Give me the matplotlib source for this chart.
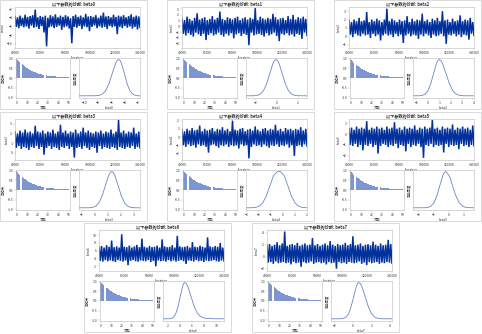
import numpy as np
import matplotlib
matplotlib.use('Agg')
import matplotlib.pyplot as plt
from matplotlib.patches import Rectangle

plt.rcParams['font.family'] = ['Noto Sans CJK SC', 'DejaVu Sans']
plt.rcParams['path.simplify'] = False

W, H = 482, 334
PW, PH = 147, 109

params = ['beta0', 'beta1', 'beta2', 'beta3', 'beta4', 'beta5', 'beta6', 'beta7']
title_prefix = '以下参数的诊断: '
iter_first, iter_last = 40001, 140000
iter_ticks = [40000, 60000, 80000, 100000, 120000, 140000]
lag_ticks = [0, 10, 20, 30, 40, 50]
acf_yticks = [-1.0, -0.5, 0.0, 0.5, 1.0]

# trace samples (thinned)
trace_beta0 = [-3.7, -6.1, -3.9, -6.4, -3.5, -5.9, -4.0, -6.2, -3.3, -6.0,
               -3.8, -6.5, -3.6, -5.8, -3.4, -6.3, -2.1, -6.1, -3.9, -6.6,
               -3.6, -5.9, -3.8, -7.4, -3.5, -10.6, -4.0, -6.2, -3.4, -6.0,
               -3.7, -6.4, -3.2, -6.1, -3.9, -5.8, -3.5, -6.8, -3.8, -6.2,
               -3.4, -6.0, -3.7, -6.5, -4.1, -9.9, -3.6, -6.1, -3.3, -6.3,
               -3.8, -5.9, -3.5, -6.6, -3.9, -6.0, -3.1, -6.2, -3.7, -7.1,
               -3.6, -6.1, -3.8, -5.8, -3.4, -6.4, -4.0, -6.0, -3.5, -6.3,
               -2.8, -6.1, -3.7, -6.6, -3.6, -5.9, -3.9, -6.2, -3.3, -6.0,
               -3.8, -7.8, -3.5, -6.1, -3.7, -6.4, -3.4, -5.9, -3.9, -6.3,
               -3.6, -6.0, -3.2, -6.5, -3.8, -6.1, -3.5, -6.7, -3.7, -6.2]
trace_beta1 = [1.4, -1.3, 1.1, -1.6, 1.7, -1.2, 1.3, -1.5, 1.0, -1.8,
               1.5, -1.1, 2.3, -1.4, 1.2, -1.7, 1.4, -1.3, 1.6, -2.4,
               1.1, -1.5, 1.3, -1.2, 1.8, -1.6, 1.2, -1.4, 1.5, -1.1,
               2.6, -1.5, 1.3, -1.8, 1.1, -1.3, 1.6, -1.6, 1.4, -1.2,
               1.2, -2.1, 1.5, -1.4, 1.7, -1.2, 1.1, -1.7, 1.4, -1.3,
               1.6, -1.5, 1.2, -3.3, 1.5, -1.1, 1.3, -1.6, 3.2, -1.4,
               1.1, -1.3, 1.7, -1.5, 1.4, -1.8, 1.2, -1.2, 1.5, -1.6,
               1.3, -1.4, 2.2, -1.1, 1.6, -1.7, 1.2, -2.6, 1.4, -1.3,
               1.5, -1.5, 1.1, -1.2, 1.8, -1.6, 1.3, -1.4, 2.0, -1.8,
               1.2, -1.3, 1.6, -1.5, 1.4, -2.2, 1.7, -1.1, 1.3, -1.6]
trace_beta2 = [1.9, 0.2, 1.7, -0.1, 2.0, 0.3, 1.8, 0.1, 2.2, 0.0,
               1.8, 0.3, 1.9, 0.1, 2.9, 0.2, 1.7, -0.2, 2.0, 0.3,
               1.8, 0.0, 2.1, 0.2, 1.9, -0.5, 1.7, 0.1, 2.0, 0.3,
               3.3, 0.1, 1.8, 0.2, 2.1, -0.1, 1.9, 0.3, 1.7, 0.0,
               2.0, 0.2, 1.8, -0.8, 1.9, 0.1, 2.4, 0.3, 1.7, 0.0,
               2.1, 0.2, 1.8, 0.1, 2.0, -0.3, 1.9, 0.2, 2.7, 0.0,
               1.8, 0.3, 2.0, 0.1, 1.7, -0.2, 2.1, 0.2, 1.9, 0.0,
               2.2, 0.1, 1.8, 0.3, 3.0, 0.0, 1.9, -0.9, 2.0, 0.2,
               1.7, 0.1, 2.1, 0.3, 1.8, 0.0, 1.9, 0.2, 2.5, -0.1,
               1.8, 0.2, 2.0, 0.1, 1.9, -0.4, 2.2, 0.3, 1.7, 0.1]
trace_beta3 = [2.2, 0.5, 2.0, 0.7, 2.3, 0.4, 2.1, 0.6, 2.4, 0.5,
               2.1, 0.3, 2.2, 0.6, 2.0, 0.5, 2.8, 0.7, 2.2, 0.4,
               2.1, 0.6, 2.3, -0.2, 2.0, 0.5, 2.2, 0.7, 2.1, 0.4,
               2.4, 0.6, 2.0, 0.5, 2.2, 0.3, 2.9, 0.6, 2.1, 0.5,
               2.3, 0.7, 2.0, 0.4, 2.2, 0.6, 2.1, -0.5, 2.4, 0.5,
               2.0, 0.6, 2.2, 0.4, 2.6, 0.7, 2.1, 0.5, 2.3, 0.3,
               2.1, 0.6, 2.0, 0.5, 2.2, 0.0, 2.1, 0.7, 2.3, 0.4,
               2.0, 0.6, 2.2, 0.5, 2.1, 0.4, 2.4, 0.6, 2.0, 0.5,
               2.2, 0.3, 3.4, 0.6, 2.1, 0.5, 2.3, 0.4, 2.0, 0.6,
               2.2, 0.5, 2.1, 0.7, 2.6, 0.4, 2.0, 0.6, 2.2, 0.5]
trace_beta4 = [0.9, -1.0, 0.7, -1.2, 1.0, -0.9, 0.8, -1.1, 1.1, -1.0,
               0.8, -1.3, 0.9, -0.9, 1.4, -1.1, 0.7, -1.0, 1.0, -1.2,
               0.8, -1.9, 0.9, -1.0, 1.1, -0.9, 0.7, -1.1, 1.0, -1.3,
               0.9, -1.0, 1.2, -1.1, 0.8, -0.9, 1.0, -1.2, 0.7, -1.0,
               2.0, -1.1, 0.9, -1.0, 0.8, -1.4, 1.0, -0.9, 1.1, -1.1,
               0.7, -1.0, 0.9, -2.6, 1.0, -1.2, 0.8, -0.9, 1.3, -1.1,
               0.9, -1.0, 0.7, -1.2, 1.0, -0.9, 1.1, -1.1, 0.8, -1.3,
               1.0, -1.0, 0.9, -1.1, 1.5, -0.9, 0.8, -1.2, 1.0, -1.0,
               0.7, -1.1, 1.1, -0.9, 0.9, -1.3, 1.0, -1.0, 0.8, -2.3,
               1.0, -1.1, 0.9, -1.0, 1.2, -1.2, 0.8, -0.9, 1.0, -1.1]
trace_beta5 = [0.5, -1.0, 0.6, -1.1, 0.4, -0.9, 0.7, -1.2, 0.5, -1.0,
               0.6, -1.5, 0.5, -1.0, 1.2, -1.1, 0.4, -0.9, 0.6, -1.2,
               0.5, -1.0, 0.7, -1.8, 0.5, -1.1, 0.6, -0.9, 0.4, -1.0,
               0.7, -1.2, 0.5, -1.0, 0.6, -1.1, 1.1, -0.9, 0.5, -1.3,
               0.6, -1.0, 0.4, -1.1, 0.7, -1.6, 0.5, -0.9, 0.6, -1.2,
               0.5, -1.0, 0.8, -1.1, 0.4, -0.9, 0.6, -1.2, 0.5, -2.2,
               0.7, -1.0, 0.5, -1.1, 0.6, -0.9, 1.3, -1.2, 0.5, -1.0,
               0.6, -1.1, 0.4, -1.0, 0.7, -1.7, 0.5, -0.9, 0.6, -1.2,
               0.5, -1.0, 0.9, -1.1, 0.4, -1.0, 0.6, -1.4, 0.5, -0.9,
               0.7, -1.1, 0.5, -1.0, 0.6, -1.2, 0.4, -1.0, 0.8, -1.1]
trace_beta6 = [6.9, 3.4, 7.2, 3.2, 6.8, 3.6, 7.4, 3.3, 7.0, 3.5,
               8.6, 3.3, 6.9, 3.1, 7.1, 3.6, 6.8, 3.4, 10.2, 3.2,
               7.0, 3.5, 6.9, 2.3, 7.3, 3.4, 6.8, 3.6, 7.1, 3.3,
               7.5, 3.2, 6.9, 3.5, 9.1, 3.4, 7.0, 3.3, 6.8, 3.6,
               7.2, 3.1, 6.9, 3.4, 7.0, 2.0, 7.3, 3.5, 6.8, 3.3,
               8.9, 3.4, 7.1, 3.2, 6.9, 3.6, 7.0, 3.3, 7.4, 3.5,
               6.8, 3.2, 9.8, 3.4, 7.1, 3.6, 6.9, 3.3, 7.0, 2.6,
               7.2, 3.5, 6.8, 3.4, 8.2, 3.2, 7.0, 3.6, 6.9, 3.3,
               7.3, 3.4, 7.0, 3.1, 6.8, 3.5, 9.4, 3.3, 7.1, 3.4,
               6.9, 3.6, 7.2, 3.3, 7.0, 3.2, 8.0, 3.5, 6.8, 3.4]
trace_beta7 = [1.9, -1.0, 2.1, -0.9, 1.8, -1.2, 2.0, -0.8, 2.4, -1.1,
               1.9, -1.0, 2.2, -0.9, 4.2, -1.1, 1.8, -1.0, 2.0, -1.3,
               2.1, -0.9, 1.9, -1.1, 2.3, -1.0, 1.8, -1.7, 2.0, -0.9,
               2.2, -1.1, 1.9, -1.0, 2.0, -0.8, 3.1, -1.2, 1.9, -1.0,
               2.1, -0.9, 1.8, -1.1, 2.0, -1.0, 2.2, -1.3, 1.9, -0.9,
               2.6, -1.1, 2.0, -1.0, 1.8, -2.0, 2.1, -0.9, 1.9, -1.1,
               2.0, -1.0, 2.3, -1.2, 1.9, -0.9, 2.1, -1.0, 3.4, -1.1,
               1.9, -1.0, 2.0, -0.8, 2.2, -1.2, 1.8, -1.0, 2.0, -1.4,
               2.1, -0.9, 1.9, -1.1, 2.5, -1.0, 2.0, -0.9, 1.8, -1.2,
               2.2, -1.0, 1.9, -1.1, 2.0, -0.9, 2.8, -1.0, 2.1, -1.1]

trace_ylims = [(-11.0, -1.5), (-3.8, 3.4), (-1.4, 3.5), (-0.75, 3.5),
               (-2.8, 2.2), (-2.4, 1.4), (0.8, 11.3), (-2.4, 4.45)]
trace_yticks = [[-10, -8, -6, -4, -2], [-3, -2, -1, 0, 1, 2, 3], [-1, 0, 1, 2, 3],
                [0, 1, 2, 3], [-2, -1, 0, 1, 2], [-2, -1, 0, 1],
                [2, 4, 6, 8, 10], [-2, 0, 2, 4]]

# autocorrelation, lags 0..50
acf_beta0 = [1.00, 0.93, 0.87, 0.81, 0.76, 0.71, 0.66, 0.62, 0.58, 0.54, 0.50,
             0.47, 0.44, 0.41, 0.38, 0.35, 0.33, 0.31, 0.29, 0.27, 0.25,
             0.23, 0.22, 0.20, 0.19, 0.18, 0.17, 0.15, 0.14, 0.13, 0.13,
             0.12, 0.11, 0.10, 0.09, 0.09, 0.08, 0.08, 0.07, 0.07, 0.06,
             0.06, 0.05, 0.05, 0.05, 0.04, 0.04, 0.04, 0.04, 0.03, 0.03]
acf_beta1 = [1.00, 0.94, 0.88, 0.82, 0.77, 0.72, 0.67, 0.63, 0.59, 0.55, 0.51,
             0.48, 0.45, 0.42, 0.39, 0.36, 0.34, 0.32, 0.30, 0.28, 0.26,
             0.24, 0.22, 0.21, 0.20, 0.18, 0.17, 0.16, 0.15, 0.14, 0.13,
             0.12, 0.11, 0.10, 0.10, 0.09, 0.08, 0.08, 0.07, 0.07, 0.06,
             0.06, 0.06, 0.05, 0.05, 0.05, 0.04, 0.04, 0.04, 0.03, 0.03]
acf_beta2 = [1.00, 0.93, 0.86, 0.80, 0.75, 0.70, 0.65, 0.61, 0.57, 0.53, 0.49,
             0.46, 0.43, 0.40, 0.37, 0.35, 0.32, 0.30, 0.28, 0.26, 0.24,
             0.23, 0.21, 0.20, 0.18, 0.17, 0.16, 0.15, 0.14, 0.13, 0.12,
             0.11, 0.10, 0.10, 0.09, 0.08, 0.08, 0.07, 0.07, 0.06, 0.06,
             0.05, 0.05, 0.05, 0.04, 0.04, 0.04, 0.04, 0.03, 0.03, 0.03]
acf_beta3 = [1.00, 0.92, 0.85, 0.79, 0.73, 0.68, 0.63, 0.59, 0.55, 0.51, 0.47,
             0.44, 0.41, 0.38, 0.35, 0.33, 0.31, 0.29, 0.27, 0.25, 0.23,
             0.21, 0.20, 0.19, 0.17, 0.16, 0.15, 0.14, 0.13, 0.12, 0.11,
             0.11, 0.10, 0.09, 0.09, 0.08, 0.07, 0.07, 0.06, 0.06, 0.05,
             0.05, 0.05, 0.04, 0.04, 0.04, 0.04, 0.03, 0.03, 0.03, 0.03]
acf_beta4 = [1.00, 0.93, 0.87, 0.82, 0.76, 0.71, 0.67, 0.62, 0.58, 0.54, 0.51,
             0.47, 0.44, 0.41, 0.38, 0.36, 0.34, 0.31, 0.29, 0.27, 0.26,
             0.24, 0.22, 0.21, 0.19, 0.18, 0.17, 0.16, 0.15, 0.14, 0.13,
             0.12, 0.11, 0.10, 0.10, 0.09, 0.08, 0.08, 0.07, 0.07, 0.06,
             0.06, 0.05, 0.05, 0.05, 0.04, 0.04, 0.04, 0.04, 0.03, 0.03]
acf_beta5 = [1.00, 0.92, 0.86, 0.80, 0.74, 0.69, 0.64, 0.60, 0.56, 0.52, 0.48,
             0.45, 0.42, 0.39, 0.36, 0.34, 0.32, 0.30, 0.28, 0.26, 0.24,
             0.22, 0.21, 0.19, 0.18, 0.17, 0.16, 0.15, 0.14, 0.13, 0.12,
             0.11, 0.10, 0.10, 0.09, 0.08, 0.08, 0.07, 0.07, 0.06, 0.06,
             0.05, 0.05, 0.05, 0.04, 0.04, 0.04, 0.03, 0.03, 0.03, 0.03]
acf_beta6 = [1.00, 0.93, 0.87, 0.81, 0.75, 0.70, 0.66, 0.61, 0.57, 0.53, 0.50,
             0.46, 0.43, 0.40, 0.38, 0.35, 0.33, 0.31, 0.29, 0.27, 0.25,
             0.23, 0.22, 0.20, 0.19, 0.18, 0.16, 0.15, 0.14, 0.13, 0.12,
             0.12, 0.11, 0.10, 0.09, 0.09, 0.08, 0.07, 0.07, 0.06, 0.06,
             0.06, 0.05, 0.05, 0.05, 0.04, 0.04, 0.04, 0.03, 0.03, 0.03]
acf_beta7 = [1.00, 0.93, 0.87, 0.81, 0.76, 0.71, 0.66, 0.62, 0.58, 0.54, 0.50,
             0.47, 0.44, 0.41, 0.38, 0.36, 0.33, 0.31, 0.29, 0.27, 0.25,
             0.24, 0.22, 0.21, 0.19, 0.18, 0.17, 0.16, 0.15, 0.14, 0.13,
             0.12, 0.11, 0.10, 0.10, 0.09, 0.08, 0.08, 0.07, 0.07, 0.06,
             0.06, 0.05, 0.05, 0.05, 0.04, 0.04, 0.04, 0.03, 0.03, 0.03]

# posterior density, relative height
dens_x_beta0 = [-10.9, -8.4, -7.9, -7.4, -6.9, -6.4, -5.9, -5.4, -5.15, -4.9,
                -4.69, -4.48, -4.05, -3.63, -3.2, -2.78, -2.35, -1.93, -1.7]
dens_y_beta0 = [0.0, 0.002, 0.011, 0.044, 0.135, 0.325, 0.607, 0.882, 0.969, 1.0,
                0.969, 0.882, 0.607, 0.325, 0.135, 0.044, 0.011, 0.002, 0.0]
dens_x_beta1 = [-2.9, -2.15, -1.85, -1.55, -1.25, -0.95, -0.65, -0.35, -0.2, -0.05,
                0.1, 0.25, 0.55, 0.85, 1.15, 1.45, 1.75, 2.05, 2.9]
dens_y_beta1 = [0.0, 0.002, 0.011, 0.044, 0.135, 0.325, 0.607, 0.882, 0.969, 1.0,
                0.969, 0.882, 0.607, 0.325, 0.135, 0.044, 0.011, 0.002, 0.0]
dens_x_beta2 = [-1.3, -0.75, -0.5, -0.25, 0.0, 0.25, 0.5, 0.75, 0.875, 1.0,
                1.15, 1.3, 1.6, 1.9, 2.2, 2.5, 2.8, 3.1, 4.05]
dens_y_beta2 = [0.0, 0.002, 0.011, 0.044, 0.135, 0.325, 0.607, 0.882, 0.969, 1.0,
                0.969, 0.882, 0.607, 0.325, 0.135, 0.044, 0.011, 0.002, 0.0]
dens_x_beta3 = [-1.25, -0.45, -0.2, 0.05, 0.3, 0.55, 0.8, 1.05, 1.175, 1.3,
                1.425, 1.55, 1.8, 2.05, 2.3, 2.55, 2.8, 3.05, 3.5]
dens_y_beta3 = [0.0, 0.002, 0.011, 0.044, 0.135, 0.325, 0.607, 0.882, 0.969, 1.0,
                0.969, 0.882, 0.607, 0.325, 0.135, 0.044, 0.011, 0.002, 0.0]
dens_x_beta4 = [-3.1, -2.6, -2.3, -2.0, -1.7, -1.4, -1.1, -0.8, -0.5, -0.35,
                -0.2, 0.1, 0.4, 0.7, 1.0, 1.3, 1.6, 2.0]
dens_y_beta4 = [0.0, 0.002, 0.011, 0.044, 0.135, 0.325, 0.607, 0.882, 0.99, 1.0,
                0.99, 0.882, 0.607, 0.325, 0.135, 0.044, 0.011, 0.001]
dens_x_beta5 = [-2.4, -1.6, -1.4, -1.2, -1.0, -0.8, -0.6, -0.4, -0.3, -0.2,
                -0.1, 0.0, 0.1, 0.25, 0.45, 0.7, 0.95, 1.2, 1.7]
dens_y_beta5 = [0.0, 0.002, 0.011, 0.044, 0.135, 0.325, 0.607, 0.882, 0.969, 1.0,
                0.96, 0.9, 0.82, 0.62, 0.36, 0.14, 0.04, 0.008, 0.0]
dens_x_beta6 = [1.2, 2.18, 2.55, 2.93, 3.3, 3.68, 4.05, 4.43, 4.61, 4.8,
                5.06, 5.33, 5.85, 6.38, 6.9, 7.43, 7.95, 8.48, 9.5, 11.3]
dens_y_beta6 = [0.0, 0.002, 0.011, 0.044, 0.135, 0.325, 0.607, 0.882, 0.969, 1.0,
                0.969, 0.882, 0.607, 0.33, 0.15, 0.06, 0.025, 0.01, 0.003, 0.0]
dens_x_beta7 = [-2.4, -1.33, -1.05, -0.78, -0.5, -0.23, 0.05, 0.33, 0.46, 0.6,
                0.78, 0.95, 1.3, 1.65, 2.0, 2.35, 2.7, 3.05, 4.2]
dens_y_beta7 = [0.0, 0.002, 0.011, 0.044, 0.135, 0.325, 0.607, 0.882, 0.969, 1.0,
                0.969, 0.882, 0.607, 0.325, 0.135, 0.044, 0.011, 0.002, 0.0]

dens_xlims = [(-10.9, -1.7), (-2.9, 2.9), (-1.3, 4.05), (-1.25, 3.5),
              (-3.1, 2.0), (-2.4, 1.7), (1.2, 11.3), (-2.4, 4.2)]
dens_xticks = [[-10, -8, -6, -4, -2], [-2, 0, 2], [-1, 0, 1, 2, 3, 4], [-1, 0, 1, 2, 3],
               [-3, -2, -1, 0, 1, 2], [-2, -1, 0, 1], [2, 4, 6, 8, 10], [-2, 0, 2, 4]]

traces = [trace_beta0, trace_beta1, trace_beta2, trace_beta3,
          trace_beta4, trace_beta5, trace_beta6, trace_beta7]
acfs = [acf_beta0, acf_beta1, acf_beta2, acf_beta3,
        acf_beta4, acf_beta5, acf_beta6, acf_beta7]
dens_xs = [dens_x_beta0, dens_x_beta1, dens_x_beta2, dens_x_beta3,
           dens_x_beta4, dens_x_beta5, dens_x_beta6, dens_x_beta7]
dens_ys = [dens_y_beta0, dens_y_beta1, dens_y_beta2, dens_y_beta3,
           dens_y_beta4, dens_y_beta5, dens_y_beta6, dens_y_beta7]

# panel top-left corners in pixels
panel_pos = [(0, 0), (167, 0), (334, 0), (0, 112), (167, 112), (334, 112),
             (84, 223), (252, 223)]

TRACE_C = '#00309c'
LIGHT_C = '#7d96cf'
SPINE_C = '#b8b8b8'
TXT_C = '#333333'
TICK_FS = 2.4


def box(x, y, w, h):
    return [x / W, 1 - (y + h) / H, w / W, h / H]


def style(ax):
    for s in ax.spines.values():
        s.set_color(SPINE_C)
        s.set_linewidth(0.4)
    ax.tick_params(labelsize=TICK_FS, length=1.2, width=0.3, pad=0.8,
                   colors=SPINE_C, labelcolor=TXT_C)


fig = plt.figure(figsize=(W / 100, H / 100), dpi=100)

for i, name in enumerate(params):
    px, py = panel_pos[i]
    fig.patches.append(Rectangle((px / W, 1 - (py + PH) / H), PW / W, PH / H,
                                 transform=fig.transFigure, fill=False,
                                 edgecolor='#d4d4d4', linewidth=0.6))
    fig.text((px + PW / 2) / W, 1 - (py + 4) / H, title_prefix + name,
             ha='center', va='center', fontsize=3.0, fontweight='bold', color=TXT_C)

    # trace
    ax = fig.add_axes(box(px + 15, py + 7, 125, 41))
    its = np.linspace(iter_first, iter_last, len(traces[i]))
    ax.plot(its, traces[i], color=TRACE_C, linewidth=1.1, solid_joinstyle='miter')
    ax.set_xlim(iter_ticks[0], iter_ticks[-1])
    ax.set_ylim(trace_ylims[i])
    ax.set_xticks(iter_ticks)
    ax.set_xticklabels([str(t) for t in iter_ticks])
    ax.set_yticks(trace_yticks[i])
    ax.set_xlabel('Iteration', fontsize=TICK_FS, labelpad=1, color=TXT_C)
    ax.set_ylabel(name, fontsize=TICK_FS, labelpad=1.5, color=TXT_C)
    style(ax)

    # autocorrelation
    ax = fig.add_axes(box(px + 16, py + 58, 54, 40))
    lags = np.arange(len(acfs[i]))
    ax.bar(lags, acfs[i], width=0.92, color=LIGHT_C, linewidth=0)
    ax.set_xlim(-0.8, 51)
    ax.set_ylim(-1.04, 1.04)
    ax.set_xticks(lag_ticks)
    ax.set_yticks(acf_yticks)
    ax.set_yticklabels(['%.1f' % v for v in acf_yticks])
    ax.set_xlabel('滞后', fontsize=TICK_FS, labelpad=1, color=TXT_C)
    ax.set_ylabel('自相关', fontsize=TICK_FS, labelpad=1.5, color=TXT_C)
    style(ax)

    # density
    ax = fig.add_axes(box(px + 79, py + 58, 61, 40))
    ax.plot(dens_xs[i], dens_ys[i], color='#6a86c2', linewidth=0.6)
    ax.set_xlim(dens_xlims[i])
    ax.set_ylim(-0.06, 1.04)
    ax.set_xticks(dens_xticks[i])
    ax.set_yticks([])
    ax.set_xlabel(name, fontsize=TICK_FS, labelpad=1, color=TXT_C)
    ax.set_ylabel('后验密度', fontsize=TICK_FS, labelpad=1.5, color=TXT_C)
    style(ax)

fig.savefig('out.png', dpi=100)
